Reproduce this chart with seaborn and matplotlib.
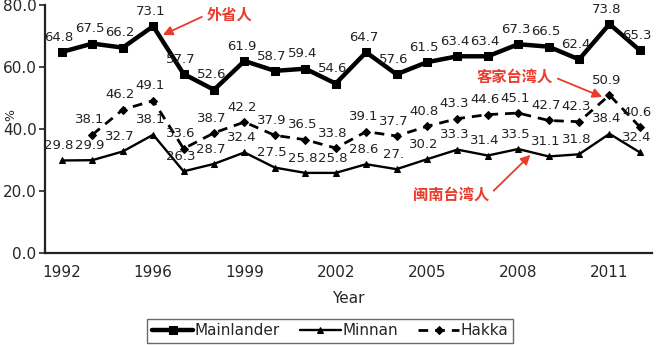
import matplotlib
matplotlib.use("Agg")
import matplotlib.pyplot as plt
import seaborn as sns
import pandas as pd
import numpy as np

sns.set_style("white")
plt.rcParams['font.family'] = ['DejaVu Sans', 'Noto Sans CJK SC']

tick_labels = ["1992", "", "", "1996", "", "", "1999", "", "", "2002", "", "",
               "2005", "", "", "2008", "", "", "2011", ""]
mainlander = [64.8, 67.5, 66.2, 73.1, 57.7, 52.6, 61.9, 58.7, 59.4, 54.6,
              64.7, 57.6, 61.5, 63.4, 63.4, 67.3, 66.5, 62.4, 73.8, 65.3]
minnan = [29.8, 29.9, 32.7, 38.1, 26.3, 28.7, 32.4, 27.5, 25.8, 25.8,
          28.6, 27.0, 30.2, 33.3, 31.4, 33.5, 31.1, 31.8, 38.4, 32.4]
hakka = [None, 38.1, 46.2, 49.1, 33.6, 38.7, 42.2, 37.9, 36.5, 33.8,
         39.1, 37.7, 40.8, 43.3, 44.6, 45.1, 42.7, 42.3, 50.9, 40.6]
minnan_text = ["29.8", "29.9", "32.7", "38.1", "26.3", "28.7", "32.4", "27.5", "25.8", "25.8",
               "28.6", "27.", "30.2", "33.3", "31.4", "33.5", "31.1", "31.8", "38.4", "32.4"]

idx = np.arange(len(tick_labels))
df = pd.DataFrame({"x": idx, "Mainlander": mainlander, "Minnan": minnan,
                   "Hakka": [np.nan if v is None else v for v in hakka]})

fig = plt.figure(figsize=(6.6, 3.45), dpi=100)
ax = fig.add_axes([0.068, 0.267, 0.92, 0.719])

sns.lineplot(data=df, x="x", y="Mainlander", ax=ax, color="black", linewidth=3.2,
             marker="s", markersize=5.5, markeredgecolor="black", label="Mainlander")
sns.lineplot(data=df, x="x", y="Minnan", ax=ax, color="black", linewidth=1.7,
             marker="^", markersize=5, markeredgecolor="black", label="Minnan")
d = df.dropna(subset=["Hakka"])
sns.lineplot(data=d, x="x", y="Hakka", ax=ax, color="black", linewidth=2.0,
             linestyle=(0, (3.5, 2.5)), marker="D", markersize=4,
             markeredgecolor="black", label="Hakka")

lab_kw = dict(textcoords="offset points", ha="center", va="bottom", fontsize=9.5, color="#222222")
for i, v in enumerate(mainlander):
    ax.annotate(f"{v:.1f}", (i, v), xytext=(-2, 6), **lab_kw)
for i, v in enumerate(minnan):
    ax.annotate(minnan_text[i], (i, v), xytext=(-2, 6), **lab_kw)
for i, v in enumerate(hakka):
    if v is not None:
        ax.annotate(f"{v:.1f}", (i, v), xytext=(-2, 6), **lab_kw)

red = "#ea3b2b"
cjk = ['Noto Sans CJK SC', 'DejaVu Sans']
ax.annotate("外省人", xy=(3.32, 70.3), xytext=(5.5, 76.8), color=red, fontsize=11,
            fontweight="bold", family=cjk, ha="center", va="center",
            arrowprops=dict(arrowstyle="-|>", color=red, lw=1.3, mutation_scale=14,
                            shrinkA=1, shrinkB=0, relpos=(0.0, 0.5)))
ax.annotate("客家台湾人", xy=(17.76, 50.3), xytext=(14.9, 56.8), color=red, fontsize=11,
            fontweight="bold", family=cjk, ha="center", va="center",
            arrowprops=dict(arrowstyle="-|>", color=red, lw=1.3, mutation_scale=14,
                            shrinkA=1, shrinkB=0,
                            relpos=(1.0, 0.5)))
ax.annotate("闽南台湾人", xy=(15.4, 31.6), xytext=(12.8, 18.7), color=red, fontsize=11,
            fontweight="bold", family=cjk, ha="center", va="center",
            arrowprops=dict(arrowstyle="-|>", color=red, lw=1.3, mutation_scale=14,
                            shrinkA=1, shrinkB=0,
                            relpos=(1.0, 0.5)))

ax.set_xlim(-0.56, 19.4)
ax.set_ylim(0, 80)
ax.set_yticks([0, 20, 40, 60, 80])
ax.set_yticklabels(["0.0", "20.0", "40.0", "60.0", "80.0"], fontsize=11)
ax.set_xticks(idx)
ax.set_xticklabels(tick_labels, fontsize=11)
ax.tick_params(axis="x", length=0, pad=9)
ax.tick_params(axis="y", length=4, width=1.2, direction="out", left=True, pad=2)
for s in ["top", "right"]:
    ax.spines[s].set_visible(False)
for s in ["left", "bottom"]:
    ax.spines[s].set_color("#222222")
    ax.spines[s].set_linewidth(1.6)
ax.set_xlabel("Year", fontsize=11, labelpad=8)
ax.set_ylabel("%", fontsize=9)
ax.yaxis.set_label_coords(-0.045, 0.556)

leg = ax.legend(loc="upper center", bbox_to_anchor=(0.47, -0.235), ncol=3,
                fontsize=11, frameon=True, fancybox=False, handlelength=2.7,
                handletextpad=0.1, columnspacing=1.3, borderpad=0.3)
leg.get_frame().set_edgecolor("#444444")
leg.get_frame().set_linewidth(1.0)

fig.savefig("out.png", dpi=100)
